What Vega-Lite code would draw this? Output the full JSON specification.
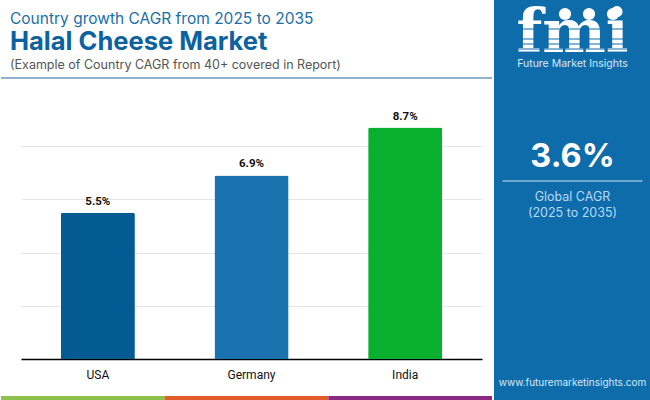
{"$schema":"https://vega.github.io/schema/vega-lite/v6.json","padding":0,"autosize":"pad","background":"white","spacing":0,"config":{"view":{"stroke":null},"concat":{"spacing":0}},"hconcat":[{"spacing":0,"vconcat":[{"width":491,"height":78,"data":{"values":[{"line":"Country growth CAGR from 2025 to 2035"},{"line":"Halal Cheese Market"},{"line":"(Example of Country CAGR from 40+ covered in Report)"}]},"layer":[{"mark":{"type":"rule","color":"#8fb0cc","strokeWidth":1.5},"encoding":{"y":{"datum":0,"scale":{"domain":[0,1]},"axis":null}}},{"transform":[{"filter":"datum.line[0]==='C'"}],"mark":{"type":"text","align":"left","baseline":"middle","font":"Inter","fontSize":15.5,"color":"#1a6fa8"},"encoding":{"text":{"field":"line"},"x":{"datum":"left","scale":{"type":"point","domain":["left"],"range":[9,9]},"axis":null},"y":{"field":"line","type":"nominal","axis":null,"scale":{"type":"point","padding":0,"domain":["Country growth CAGR from 2025 to 2035","Halal Cheese Market","(Example of Country CAGR from 40+ covered in Report)"],"range":[19,65]}}}},{"transform":[{"filter":"datum.line[0]==='H'"}],"mark":{"type":"text","align":"left","baseline":"middle","font":"Inter","fontWeight":"bold","fontSize":25.5,"color":"#0b629f"},"encoding":{"text":{"field":"line"},"x":{"datum":"left","scale":{"type":"point","domain":["left"],"range":[9,9]},"axis":null},"y":{"field":"line","type":"nominal","axis":null,"scale":{"type":"point","padding":0,"domain":["Country growth CAGR from 2025 to 2035","Halal Cheese Market","(Example of Country CAGR from 40+ covered in Report)"],"range":[19,65]}}}},{"transform":[{"filter":"datum.line[0]==='('"}],"mark":{"type":"text","align":"left","baseline":"middle","font":"Inter","fontSize":12.5,"color":"#555555"},"encoding":{"text":{"field":"line"},"x":{"datum":"left","scale":{"type":"point","domain":["left"],"range":[9,9]},"axis":null},"y":{"field":"line","type":"nominal","axis":null,"scale":{"type":"point","padding":0,"domain":["Country growth CAGR from 2025 to 2035","Halal Cheese Market","(Example of Country CAGR from 40+ covered in Report)"],"range":[19,65]}}}}],"resolve":{"scale":{"y":"independent"}}},{"spacing":0,"hconcat":[{"width":20,"height":280,"data":{"values":[]},"mark":"rect"},{"width":461,"height":280,"data":{"values":[{"country":"USA","value":5.5,"label":"5.5%"},{"country":"Germany","value":6.9,"label":"6.9%"},{"country":"India","value":8.7,"label":"8.7%"}]},"encoding":{"x":{"field":"country","type":"nominal","sort":null,"title":null,"scale":{"paddingInner":0.518,"paddingOuter":0.259},"axis":{"labelAngle":0,"ticks":false,"labelFont":"Roboto","labelFontSize":12,"labelColor":"#111111","labelPadding":10,"domainColor":"#000000","domainWidth":1.3,"minExtent":37,"maxExtent":37}},"y":{"field":"value","type":"quantitative","title":null,"scale":{"domain":[0,10.526],"nice":false},"axis":{"values":[2,4,6,8],"domain":false,"ticks":false,"labels":false,"grid":true,"gridColor":"#e6e6e6","gridWidth":1,"minExtent":0,"maxExtent":0}}},"layer":[{"mark":{"type":"bar","cornerRadiusEnd":2},"encoding":{"color":{"field":"country","type":"nominal","legend":null,"scale":{"domain":["USA","Germany","India"],"range":["#045a92","#1a73ae","#08b02e"]}}}},{"mark":{"type":"text","font":"Roboto","fontWeight":"bold","fontSize":11.5,"color":"#111111","dy":-11},"encoding":{"text":{"field":"label"}}}]},{"width":8,"height":280,"data":{"values":[]},"mark":"rect"}]},{"width":491,"height":4,"data":{"values":[{"segment":"a"},{"segment":"b"},{"segment":"c"}]},"mark":"rect","encoding":{"x":{"field":"segment","type":"nominal","axis":null,"scale":{"paddingInner":0,"paddingOuter":0}},"fill":{"field":"segment","type":"nominal","legend":null,"scale":{"domain":["a","b","c"],"range":["#8bc04a","#e25c2a","#8a2a82"]}}}}]},{"spacing":0,"vconcat":[{"width":157,"height":72,"view":{"fill":"#0f6cab"},"data":{"values":[{"k":"fmi","t":"fmi"},{"k":"s1"},{"k":"s2"},{"k":"s3"},{"k":"s4"},{"k":"s5"},{"k":"s6"},{"k":"icons","g":"g1"},{"k":"icons","g":"g2"},{"k":"icons","g":"g3"},{"k":"name","t":"Future Market Insights"}]},"encoding":{"y":{"field":"k","type":"nominal","axis":null,"scale":{"type":"point","padding":0,"domain":["icons","x1","s0","s1","fmi","s2","s3","s4","s5","s6","name"],"range":[14,64]}}},"layer":[{"transform":[{"filter":"datum.k==='fmi'"}],"mark":{"type":"text","font":"DejaVu Serif","fontWeight":"bold","fontSize":60,"color":"white","baseline":"middle"},"encoding":{"text":{"field":"t"}}},{"transform":[{"filter":"datum.k[0]==='s'"}],"mark":{"type":"rule","color":"#0f6cab","strokeWidth":1}},{"transform":[{"filter":"datum.k==='icons'"}],"mark":{"type":"point","filled":true,"color":"white","opacity":1,"size":150},"encoding":{"x":{"field":"g","type":"nominal","axis":null,"scale":{"type":"point","padding":0,"domain":["g1","g2","g3"],"range":[71,119]}}}},{"transform":[{"filter":"datum.k==='name'"}],"mark":{"type":"text","font":"Inter","fontSize":10.5,"color":"#d5e9f8"},"encoding":{"text":{"field":"t"}}}]},{"width":157,"height":294,"view":{"fill":"#0f6cab"},"data":{"values":[{"k":"3.6%","t":"3.6%"},{"k":"rule"},{"k":"Global CAGR","t":"Global CAGR"},{"k":"(2025 to 2035)","t":"(2025 to 2035)"}]},"encoding":{"y":{"field":"k","type":"nominal","axis":null,"scale":{"type":"point","padding":0,"domain":["3.6%","a","b","rule","c","Global CAGR","d","(2025 to 2035)"],"range":[85,141]}}},"layer":[{"transform":[{"filter":"datum.k==='3.6%'"}],"mark":{"type":"text","font":"Inter","fontWeight":"bold","fontSize":32.5,"color":"white"},"encoding":{"text":{"field":"t"}}},{"transform":[{"filter":"datum.k==='rule'"}],"mark":{"type":"tick","orient":"horizontal","size":140,"thickness":1.5,"color":"#8fbbdc","opacity":1}},{"transform":[{"filter":"datum.t && datum.k!=='3.6%'"}],"mark":{"type":"text","font":"Inter","fontSize":12.5,"color":"#b5daf7"},"encoding":{"text":{"field":"t"}}}]},{"width":157,"height":34,"view":{"fill":"#0f6cab"},"data":{"values":[{"t":"www.futuremarketinsights.com"}]},"mark":{"type":"text","font":"Inter","fontSize":10,"color":"#d5e9f8"},"encoding":{"text":{"field":"t"}}}]}]}
